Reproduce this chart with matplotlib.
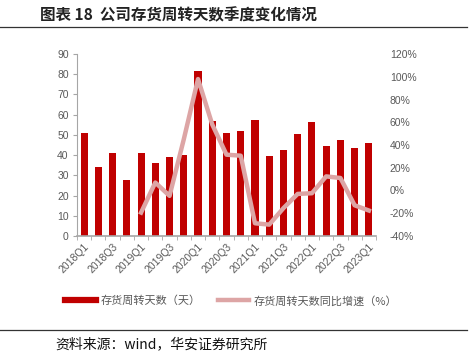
import matplotlib
matplotlib.use("Agg")
import matplotlib.pyplot as plt
from matplotlib.lines import Line2D
import numpy as np

plt.rcParams['font.family'] = ['Liberation Sans', 'Noto Sans CJK SC', 'DejaVu Sans']

quarters = [f"{y}Q{q}" for y in range(2018, 2024) for q in range(1, 5)][:21]
days = [51.1, 34.0, 40.9, 27.5, 41.0, 36.2, 38.9, 40.0, 81.6, 57.0, 50.8, 52.0,
        57.4, 39.6, 42.7, 50.5, 56.3, 44.4, 47.3, 43.5, 46.2]
yoy = [None, None, None, None, -19.4, 7.0, -4.7, 45.0, 98.0, 58.0, 31.5, 30.6,
       -28.8, -30.0, -15.5, -3.0, -2.4, 12.4, 11.0, -13.0, -17.6]

bar_label = "存货周转天数（天）"
line_label = "存货周转天数同比增速（%）"
title = "图表 18  公司存货周转天数季度变化情况"
source = "资料来源：wind，华安证券研究所"

W, H = 473, 359
fig = plt.figure(figsize=(W / 100, H / 100), dpi=100)
ax = fig.add_axes([77 / W, 1 - 236 / H, (376 - 77) / W, (236 - 54) / H])
ax2 = ax.twinx()

x = np.arange(len(quarters))
ax.bar(x, days, width=0.5, color="#C00000", zorder=2)
xs = [i for i, v in enumerate(yoy) if v is not None]
ys = [v for v in yoy if v is not None]
ax2.plot(xs, ys, color="#DDA5A5", lw=3.2, solid_joinstyle="round", zorder=3)

ax.set_xlim(-0.5, len(quarters) - 0.5)
ax.set_ylim(0, 90)
ax.set_yticks(range(0, 91, 10))
ax2.set_ylim(-40, 120)
ax2.set_yticks(range(-40, 121, 20))
ax2.set_yticklabels([f"{v}%" for v in range(-40, 121, 20)])

gray = "#595959"
axcol = "#A6A6A6"
for a in (ax, ax2):
    for s in a.spines.values():
        s.set_visible(False)
ax.spines['left'].set_visible(True)
ax.spines['left'].set_color(axcol)
ax.spines['bottom'].set_visible(True)
ax.spines['bottom'].set_color(axcol)
ax.spines['bottom'].set_linewidth(1.2)

ax.set_xticks(x[::2])
ax.set_xticklabels(quarters[::2], rotation=45, ha="right", rotation_mode="anchor")
ax.set_xticks(np.arange(-0.5, len(quarters), 1), minor=True)
ax.tick_params(axis='x', which='major', length=0, labelsize=7.5, labelcolor=gray, pad=4)
ax.tick_params(axis='x', which='minor', length=3, color=axcol)
ax.tick_params(axis='y', length=3, color=axcol, labelsize=7.5, labelcolor=gray, pad=3)
ax2.tick_params(axis='y', length=0, labelsize=7.5, labelcolor=gray, pad=10)

handles = [Line2D([0], [0], color="#C00000", lw=4.5),
           Line2D([0], [0], color="#DDA5A5", lw=3.2)]
fig.legend(handles, [bar_label, line_label], loc="center", bbox_to_anchor=(231 / W, 1 - 301 / H),
           ncol=2, frameon=False, labelcolor=gray, handlelength=2.8,
           columnspacing=1.6, handletextpad=0.4,
           prop={'family': ['Noto Sans CJK SC', 'DejaVu Sans'], 'size': 8})

fig.text(40 / W, 1 - 15 / H, title, fontsize=11.2, fontweight="bold",
         family=['Noto Sans CJK SC', 'DejaVu Sans'], va="center", ha="left", color="#222222")
fig.add_artist(Line2D([0, 467 / W], [1 - 27 / H, 1 - 27 / H], color="#333333", lw=0.9))
fig.add_artist(Line2D([0, 467 / W], [1 - 329.5 / H, 1 - 329.5 / H], color="#333333", lw=0.9))
fig.text(55 / W, 1 - 344 / H, source, fontsize=10,
         family=['Noto Sans CJK SC', 'DejaVu Sans'], va="center", ha="left", color="#111111")

fig.savefig("out.png", dpi=100)
